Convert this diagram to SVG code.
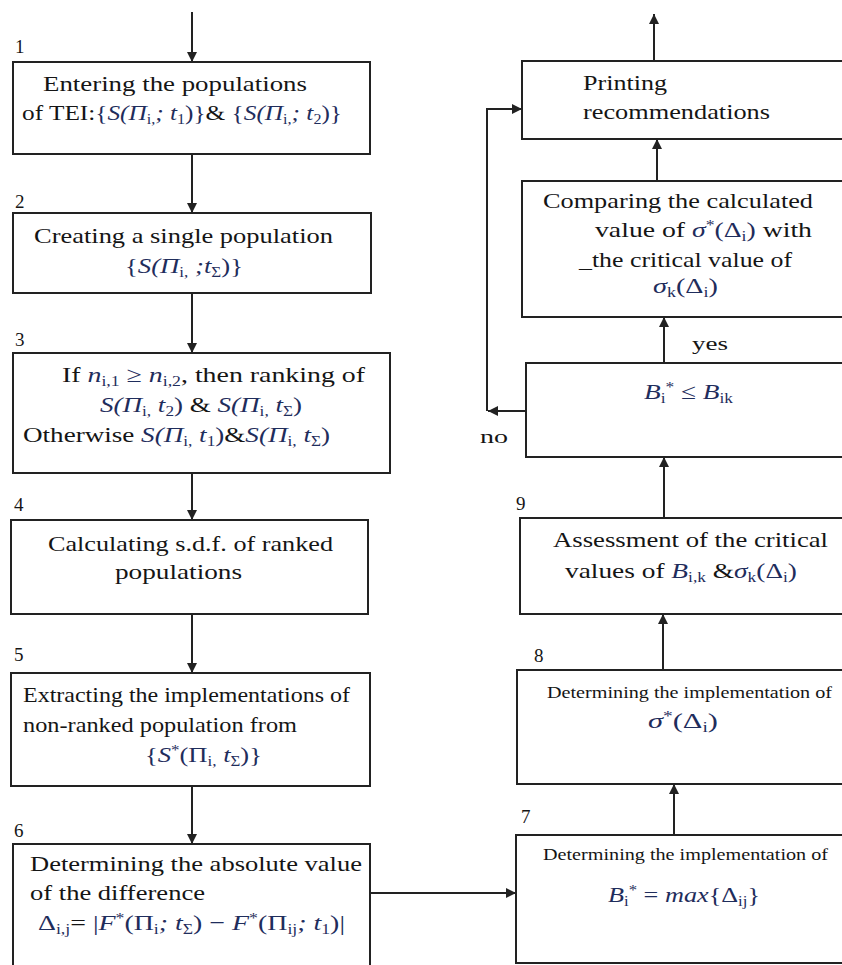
<svg xmlns="http://www.w3.org/2000/svg" width="842" height="965" viewBox="0 0 842 965">
<style>
  .box { fill: #ffffff; stroke: #222222; stroke-width: 2; }
  .t { font-family: "Liberation Serif", "Times New Roman", serif; font-size: 22px; fill: #151515; }
  .s { font-family: "Liberation Serif", "Times New Roman", serif; font-size: 17px; fill: #151515; }
  .num { font-family: "Liberation Serif", "Times New Roman", serif; font-size: 19px; fill: #151515; }
  .m { font-style: italic; fill: #1f2d5c; }
  .mu { font-style: normal; fill: #1f2d5c; }
  .sb { font-size: 14px; font-style: normal; }
  .conn { stroke: #222222; stroke-width: 2; fill: none; }
</style>
<defs>
  <marker id="arr" viewBox="0 0 10 10" refX="10" refY="5" markerWidth="5" markerHeight="5" orient="auto" markerUnits="strokeWidth">
    <path d="M0,0 L10,5 L0,10 Z" fill="#222222"/>
  </marker>
</defs>
<rect width="842" height="965" fill="#ffffff"/>

<g id="connectors">
  <path class="conn" d="M192,12 V62" marker-end="url(#arr)"/>
  <path class="conn" d="M192,154 V213" marker-end="url(#arr)"/>
  <path class="conn" d="M192,293 V353" marker-end="url(#arr)"/>
  <path class="conn" d="M192,473 V520" marker-end="url(#arr)"/>
  <path class="conn" d="M192,614 V673" marker-end="url(#arr)"/>
  <path class="conn" d="M192,786 V844" marker-end="url(#arr)"/>
  <path class="conn" d="M370,893 H516" marker-end="url(#arr)"/>
  <path class="conn" d="M674,835 V784" marker-end="url(#arr)"/>
  <path class="conn" d="M663,670 V614" marker-end="url(#arr)" stroke="#555555"/>
  <path class="conn" d="M664,518 V457" marker-end="url(#arr)"/>
  <path class="conn" d="M664,363 V317" marker-end="url(#arr)"/>
  <path class="conn" d="M657,181 V139" marker-end="url(#arr)"/>
  <path class="conn" d="M654,61 V14" marker-end="url(#arr)"/>
  <path class="conn" d="M526,411 H488" marker-end="url(#arr)"/>
  <path class="conn" d="M487,411 V109 H522" marker-end="url(#arr)" stroke="#444444"/>
  <text class="num" x="692" y="350" textLength="36" lengthAdjust="spacingAndGlyphs">yes</text>
  <text class="num" x="480" y="443" textLength="28" lengthAdjust="spacingAndGlyphs">no</text>
</g>

<g id="node1">
  <rect class="box" x="13" y="62" width="357" height="92"/>
  <text class="num" x="15" y="53">1</text>
  <text class="t" x="43" y="91" textLength="264" lengthAdjust="spacingAndGlyphs">Entering the populations</text>
  <text class="t" x="22" y="120" textLength="320" lengthAdjust="spacingAndGlyphs">of TEI:<tspan class="mu">{</tspan><tspan class="m">S(Π</tspan><tspan class="m sb" dy="4">i,</tspan><tspan class="m" dy="-4">; t</tspan><tspan class="m sb" dy="4">1</tspan><tspan class="mu" dy="-4">)}</tspan>&amp; <tspan class="mu">{</tspan><tspan class="m">S(Π</tspan><tspan class="m sb" dy="4">i,</tspan><tspan class="m" dy="-4">; t</tspan><tspan class="m sb" dy="4">2</tspan><tspan class="mu" dy="-4">)}</tspan></text>
</g>

<g id="node2">
  <rect class="box" x="13" y="213" width="358" height="80"/>
  <text class="num" x="15" y="208">2</text>
  <text class="t" x="34" y="243" textLength="299" lengthAdjust="spacingAndGlyphs">Creating a single population</text>
  <text class="t" x="125" y="273" textLength="118" lengthAdjust="spacingAndGlyphs"><tspan class="mu">{</tspan><tspan class="m">S(Π</tspan><tspan class="m sb" dy="4">i,</tspan><tspan class="m" dy="-4"> ;t</tspan><tspan class="m sb" dy="4">Σ</tspan><tspan class="mu" dy="-4">)}</tspan></text>
</g>

<g id="node3">
  <rect class="box" x="13" y="353" width="377" height="120"/>
  <text class="num" x="15" y="346">3</text>
  <text class="t" x="62" y="382" textLength="303" lengthAdjust="spacingAndGlyphs">If  <tspan class="m">n</tspan><tspan class="m sb" dy="4">i,1</tspan><tspan class="mu" dy="-4"> ≥ </tspan><tspan class="m">n</tspan><tspan class="m sb" dy="4">i,2</tspan><tspan dy="-4">, then ranking of</tspan></text>
  <text class="t" x="100" y="412" textLength="202" lengthAdjust="spacingAndGlyphs"><tspan class="m">S(Π</tspan><tspan class="m sb" dy="4">i,</tspan><tspan class="m" dy="-4"> t</tspan><tspan class="m sb" dy="4">2</tspan><tspan class="mu" dy="-4">)</tspan> &amp; <tspan class="m">S(Π</tspan><tspan class="m sb" dy="4">i,</tspan><tspan class="m" dy="-4"> t</tspan><tspan class="m sb" dy="4">Σ</tspan><tspan class="mu" dy="-4">)</tspan></text>
  <text class="t" x="23" y="442" textLength="307" lengthAdjust="spacingAndGlyphs">Otherwise  <tspan class="m">S(Π</tspan><tspan class="m sb" dy="4">i,</tspan><tspan class="m" dy="-4"> t</tspan><tspan class="m sb" dy="4">1</tspan><tspan class="mu" dy="-4">)</tspan>&amp;<tspan class="m">S(Π</tspan><tspan class="m sb" dy="4">i,</tspan><tspan class="m" dy="-4"> t</tspan><tspan class="m sb" dy="4">Σ</tspan><tspan class="mu" dy="-4">)</tspan></text>
</g>

<g id="node4">
  <rect class="box" x="11" y="520" width="357" height="94"/>
  <text class="num" x="14" y="511">4</text>
  <text class="t" x="48" y="551" textLength="285" lengthAdjust="spacingAndGlyphs">Calculating s.d.f. of ranked</text>
  <text class="t" x="115" y="579" textLength="127" lengthAdjust="spacingAndGlyphs">populations</text>
</g>

<g id="node5">
  <rect class="box" x="11" y="673" width="359" height="113"/>
  <text class="num" x="14" y="661">5</text>
  <text class="t" x="23" y="702" textLength="327" lengthAdjust="spacingAndGlyphs">Extracting the implementations of</text>
  <text class="t" x="23" y="732" textLength="274" lengthAdjust="spacingAndGlyphs">non-ranked population from</text>
  <text class="t" x="145" y="762" textLength="117" lengthAdjust="spacingAndGlyphs"><tspan class="mu">{</tspan><tspan class="m">S</tspan><tspan class="mu sb" dy="-7">*</tspan><tspan class="mu" dy="7">(Π</tspan><tspan class="m sb" dy="4">i,</tspan><tspan class="m" dy="-4"> t</tspan><tspan class="m sb" dy="4">Σ</tspan><tspan class="mu" dy="-4">)}</tspan></text>
</g>

<g id="node6">
  <rect class="box" x="13" y="844" width="357" height="135"/>
  <text class="num" x="14" y="837">6</text>
  <text class="t" x="30" y="871" textLength="332" lengthAdjust="spacingAndGlyphs">Determining the absolute value</text>
  <text class="t" x="30" y="900" textLength="175" lengthAdjust="spacingAndGlyphs">of the difference</text>
  <text class="t" x="38" y="930" textLength="307" lengthAdjust="spacingAndGlyphs"><tspan class="mu">Δ</tspan><tspan class="m sb" dy="4">i,j</tspan><tspan dy="-4">= </tspan><tspan class="mu">|</tspan><tspan class="m">F</tspan><tspan class="mu sb" dy="-7">*</tspan><tspan class="mu" dy="7">(Π</tspan><tspan class="m sb" dy="4">i</tspan><tspan class="m" dy="-4">; t</tspan><tspan class="m sb" dy="4">Σ</tspan><tspan class="mu" dy="-4">) − </tspan><tspan class="m">F</tspan><tspan class="mu sb" dy="-7">*</tspan><tspan class="mu" dy="7">(Π</tspan><tspan class="m sb" dy="4">ij</tspan><tspan class="m" dy="-4">; t</tspan><tspan class="m sb" dy="4">1</tspan><tspan class="mu" dy="-4">)|</tspan></text>
</g>

<g id="node7">
  <rect class="box" x="516" y="835" width="340" height="128"/>
  <text class="num" x="521" y="823">7</text>
  <text class="s" x="543" y="860" textLength="285" lengthAdjust="spacingAndGlyphs">Determining the implementation of</text>
  <text class="t" x="608" y="902" textLength="152" lengthAdjust="spacingAndGlyphs"><tspan class="m">B</tspan><tspan class="m sb" dy="4">i</tspan><tspan class="mu sb" dy="-11">*</tspan><tspan class="mu" dy="7"> = </tspan><tspan class="m">max</tspan><tspan class="mu">{Δ</tspan><tspan class="m sb" dy="4">ij</tspan><tspan class="mu" dy="-4">}</tspan></text>
</g>

<g id="node8">
  <rect class="box" x="517" y="670" width="340" height="114"/>
  <text class="num" x="534" y="662">8</text>
  <text class="s" x="547" y="698" textLength="285" lengthAdjust="spacingAndGlyphs">Determining the implementation of</text>
  <text class="t" x="648" y="728" textLength="70" lengthAdjust="spacingAndGlyphs"><tspan class="m">σ</tspan><tspan class="mu sb" dy="-7">*</tspan><tspan class="mu" dy="7">(Δ</tspan><tspan class="m sb" dy="4">i</tspan><tspan class="mu" dy="-4">)</tspan></text>
</g>

<g id="node9">
  <rect class="box" x="520" y="518" width="340" height="96"/>
  <text class="num" x="516" y="510">9</text>
  <text class="t" x="553" y="547" textLength="275" lengthAdjust="spacingAndGlyphs">Assessment of the critical</text>
  <text class="t" x="565" y="578" textLength="232" lengthAdjust="spacingAndGlyphs">values of <tspan class="m">B</tspan><tspan class="m sb" dy="4">i,k</tspan><tspan dy="-4"> &amp;</tspan><tspan class="m">σ</tspan><tspan class="m sb" dy="4">k</tspan><tspan class="mu" dy="-4">(Δ</tspan><tspan class="m sb" dy="4">i</tspan><tspan class="mu" dy="-4">)</tspan></text>
</g>

<g id="node10">
  <rect class="box" x="526" y="363" width="340" height="94"/>
  <text class="t" x="644" y="399" textLength="89" lengthAdjust="spacingAndGlyphs"><tspan class="m">B</tspan><tspan class="m sb" dy="4">i</tspan><tspan class="mu sb" dy="-11">*</tspan><tspan class="mu" dy="7"> ≤ </tspan><tspan class="m">B</tspan><tspan class="m sb" dy="4">ik</tspan></text>
</g>

<g id="node11">
  <rect class="box" x="522" y="181" width="340" height="136"/>
  <text class="t" x="543" y="208" textLength="270" lengthAdjust="spacingAndGlyphs">Comparing the calculated</text>
  <text class="t" x="595" y="237" textLength="217" lengthAdjust="spacingAndGlyphs">value of  <tspan class="m">σ</tspan><tspan class="mu sb" dy="-7">*</tspan><tspan class="mu" dy="7">(Δ</tspan><tspan class="m sb" dy="4">i</tspan><tspan class="mu" dy="-4">)</tspan> with</text>
  <text class="t" x="579" y="267" textLength="213" lengthAdjust="spacingAndGlyphs">_the critical value of</text>
  <text class="t" x="653" y="293" textLength="65" lengthAdjust="spacingAndGlyphs"><tspan class="m">σ</tspan><tspan class="m sb" dy="4">k</tspan><tspan class="mu" dy="-4">(Δ</tspan><tspan class="m sb" dy="4">i</tspan><tspan class="mu" dy="-4">)</tspan></text>
</g>

<g id="node12">
  <rect class="box" x="522" y="61" width="340" height="78"/>
  <text class="t" x="583" y="90" textLength="84" lengthAdjust="spacingAndGlyphs">Printing</text>
  <text class="t" x="583" y="119" textLength="187" lengthAdjust="spacingAndGlyphs">recommendations</text>
</g>
</svg>
